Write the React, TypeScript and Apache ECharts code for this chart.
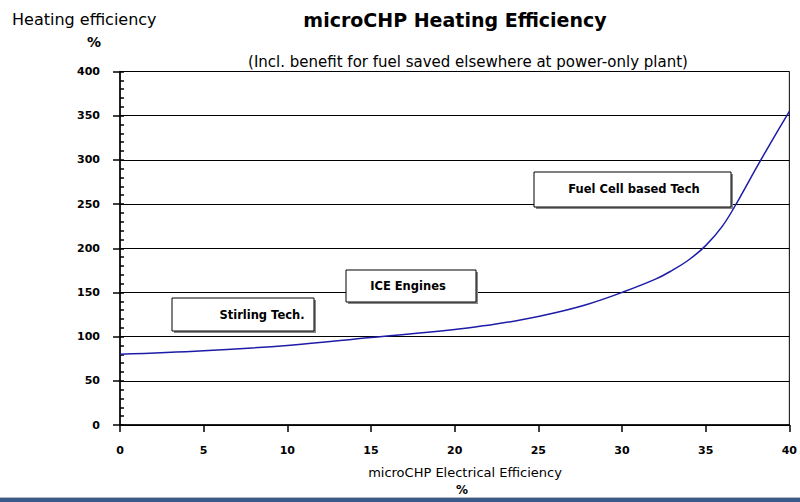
import React, { useEffect, useRef } from "react";
import * as echarts from "echarts";

const electricalEff = [0, 5, 10, 15, 20, 22, 24, 26, 28, 30, 32, 33, 34, 35, 36, 37, 38, 39, 40];
const heatingEff = [80, 84, 90, 99, 108, 113, 119, 127, 137, 150, 165, 175, 187, 203, 225, 256, 290, 323, 355];

const titleText = "microCHP Heating Efficiency";
const subtitleText = "(Incl. benefit for fuel saved elsewhere at power-only plant)";
const yName = "Heating efficiency";
const xName = "microCHP Electrical Efficiency";
const annotations = [
  { label: "Stirling Tech.", box: [172, 298, 142, 33], text: [262, 315] },
  { label: "ICE Engines", box: [346, 270, 130, 32], text: [408, 286] },
  { label: "Fuel Cell based Tech", box: [534, 172, 197, 35], text: [634, 189] },
];

const FONT = "'DejaVu Sans', 'Liberation Sans', Arial, sans-serif";

export default function App() {
  const ref = useRef<HTMLDivElement>(null);
  useEffect(() => {
    if (!ref.current) return;
    const chart = echarts.init(ref.current, null, { renderer: "svg" });
    const graphics: any[] = [
      {
        type: "text",
        x: 455,
        y: 20,
        style: { text: titleText, font: `bold 19px ${FONT}`, fill: "#000", textAlign: "center", textVerticalAlign: "middle" },
      },
      {
        type: "text",
        x: 468,
        y: 62,
        style: { text: subtitleText, font: `15px ${FONT}`, fill: "#000", textAlign: "center", textVerticalAlign: "middle" },
      },
      {
        type: "text",
        x: 12,
        y: 19,
        style: { text: yName, font: `16px ${FONT}`, fill: "#000", textAlign: "left", textVerticalAlign: "middle" },
      },
      {
        type: "text",
        x: 94,
        y: 42,
        style: { text: "%", font: `bold 14px ${FONT}`, fill: "#000", textAlign: "center", textVerticalAlign: "middle" },
      },
      {
        type: "text",
        x: 465,
        y: 472,
        style: { text: xName, font: `13px ${FONT}`, fill: "#000", textAlign: "center", textVerticalAlign: "middle" },
      },
      {
        type: "text",
        x: 462,
        y: 490,
        style: { text: "%", font: `bold 12px ${FONT}`, fill: "#000", textAlign: "center", textVerticalAlign: "middle" },
      },
      {
        type: "rect",
        shape: { x: 0, y: 498, width: 800, height: 4 },
        style: { fill: "#3b5a8c" },
      },
      {
        type: "rect",
        shape: { x: 0, y: 497, width: 800, height: 1 },
        style: { fill: "#b8b8c0" },
      },
    ];
    annotations.forEach((a) => {
      const [bx, by, bw, bh] = a.box;
      graphics.push({
        type: "rect",
        shape: { x: bx + 2, y: by + 2, width: bw, height: bh },
        style: { fill: "#888" },
        z: 10,
      });
      graphics.push({
        type: "rect",
        shape: { x: bx, y: by, width: bw, height: bh },
        style: { fill: "#fff", stroke: "#000", lineWidth: 1 },
        z: 11,
      });
      graphics.push({
        type: "text",
        x: a.text[0],
        y: a.text[1],
        style: { text: a.label, font: `bold 11.5px ${FONT}`, fill: "#000", textAlign: "center", textVerticalAlign: "middle" },
        z: 12,
      });
    });

    chart.setOption({
      animation: false,
      backgroundColor: "#fff",
      grid: {
        left: 120,
        right: 4,
        top: 71.5,
        bottom: 77,
        show: true,
        borderColor: "#000",
        borderWidth: 1,
        backgroundColor: "transparent",
      },
      xAxis: {
        type: "value",
        min: 0,
        max: 40,
        interval: 5,
        axisLine: { show: true, lineStyle: { color: "#000", width: 1.5 } },
        axisTick: { show: true, length: 7, lineStyle: { color: "#000", width: 1.5 } },
        splitLine: { show: false },
        axisLabel: { color: "#000", fontFamily: FONT, fontSize: 11, fontWeight: "bold", margin: 20 },
      },
      yAxis: [
        {
          type: "value",
          min: 0,
          max: 400,
          interval: 50,
          axisLine: { show: true, lineStyle: { color: "#000", width: 1.5 } },
          axisTick: { show: true, length: 7, lineStyle: { color: "#000", width: 1.5 } },
          splitLine: { show: true, lineStyle: { color: "#000", width: 1 } },
          axisLabel: { color: "#000", fontFamily: FONT, fontSize: 11, fontWeight: "bold", margin: 20 },
        },
        {
          type: "value",
          position: "left",
          offset: 0,
          min: 0,
          max: 400,
          interval: 10,
          axisLine: { show: false },
          axisTick: { show: true, inside: true, length: 4, lineStyle: { color: "#000", width: 1.5 } },
          splitLine: { show: false },
          axisLabel: { show: false },
        },
      ],
      series: [
        {
          type: "line",
          data: electricalEff.map((x, i) => [x, heatingEff[i]]),
          smooth: 0.4,
          symbol: "none",
          lineStyle: { color: "#1c1ca8", width: 1.5 },
          z: 5,
        },
      ],
      graphic: graphics,
    });
    return () => chart.dispose();
  }, []);
  return <div ref={ref} style={{ width: 800, height: 502, position: "absolute", left: 0, top: 0 }} />;
}
